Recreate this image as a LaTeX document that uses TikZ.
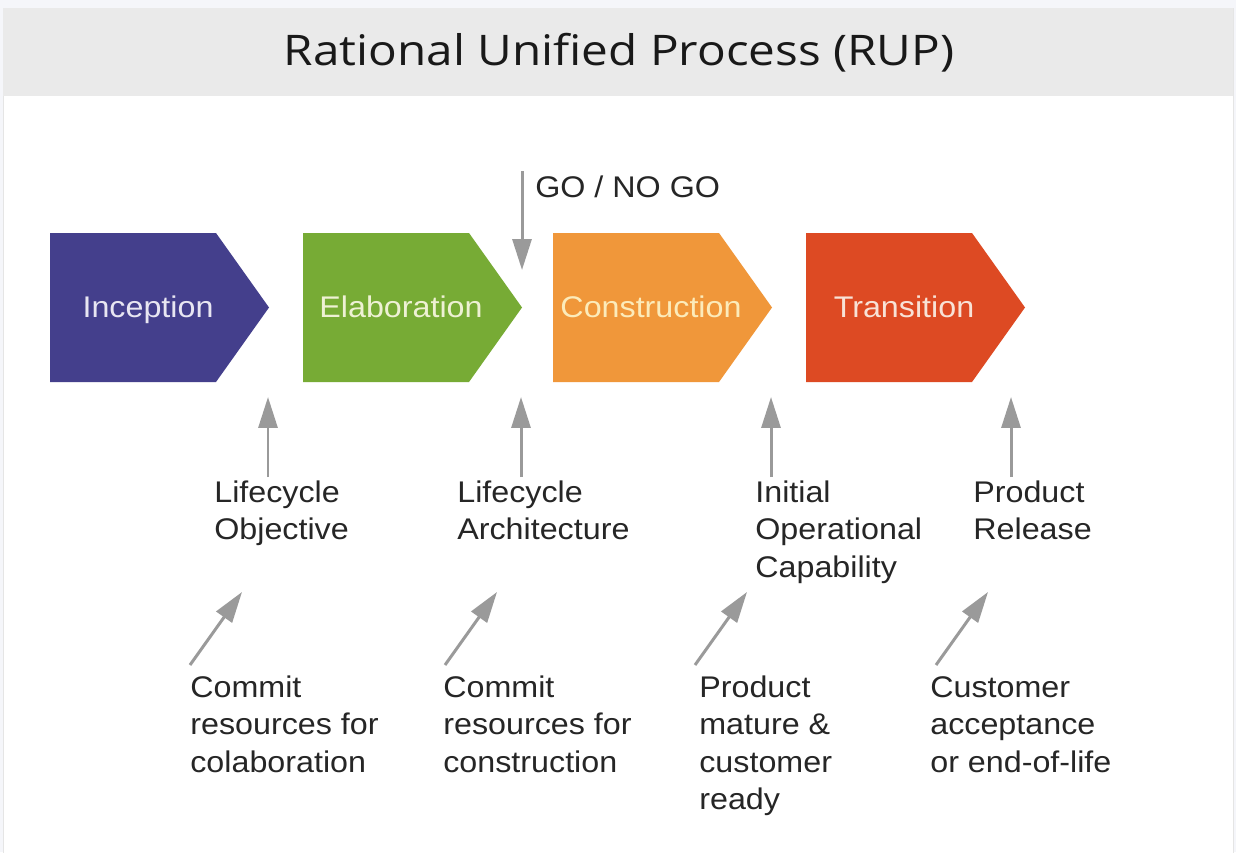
\documentclass[tikz,border=0pt]{standalone}
\usepackage{fontspec}
\setmainfont{Liberation Sans}[FakeStretch=1.08]
\newfontfamily\titlefont{Open Sans}[FakeStretch=1.13]
\usetikzlibrary{arrows.meta}
\definecolor{rupInc}{HTML}{443F8C}
\definecolor{rupEla}{HTML}{77AB35}
\definecolor{rupCon}{HTML}{F0973A}
\definecolor{rupTra}{HTML}{DD4A23}
\definecolor{txtInc}{HTML}{E8E6F2}
\definecolor{txtEla}{HTML}{EEF1D4}
\definecolor{txtCon}{HTML}{FCEBBA}
\definecolor{txtTra}{HTML}{F8E2D6}
\definecolor{pagebg}{HTML}{F5F6FA}
\definecolor{headbg}{HTML}{EAEAEA}
\definecolor{arrowgrey}{HTML}{9A9A9A}

\begin{document}
\begin{tikzpicture}[x=0.02cm,y=-0.02cm,
    milestone/.style={anchor=base west,align=left,inner sep=0pt,
      font=\fontsize{17}{21.3}\selectfont,text=black!85},
    phasetext/.style={anchor=base,inner sep=0pt,font=\fontsize{17}{20}\selectfont},
    gate/.style={draw=arrowgrey,line width=1.7pt,
      -{Triangle[length=17.6pt,width=10.8pt]}}]
        \useasboundingbox (0,0) rectangle (1236,852);
        \fill[pagebg] (0,0) rectangle (1236,852);
        \filldraw[fill=white,draw=black!10] (3,8) rectangle (1233,853);
        \fill[headbg] (3,8) rectangle (1233,96);
        \node[anchor=base,inner sep=0pt,font=\titlefont\fontsize{24}{28}\selectfont,text=black!90]
            (title) at (619,65) {Rational Unified Process (RUP)};

        % phases
        \foreach \x/\col/\tcol/\txt in {50/rupInc/txtInc/Inception,
                303/rupEla/txtEla/Elaboration,
                553/rupCon/txtCon/Construction,
                806/rupTra/txtTra/Transition}{
            \fill[\col] (\x,233) -- ++(166,0) -- ++(53,74.5) -- ++(-53,74.5) -- ++(-166,0) -- cycle;
            \node[phasetext,text=\tcol] (\txt) at (\x+98,317) {\txt};
        }

        % go / no go
        \node[milestone] (go) at (535,197) {GO / NO GO};
        \coordinate (go-start) at (522,171);
        \coordinate (go-end) at (522,270);
        \draw[gate] (go-start) -- (go-end);

        % milestones (base = last line)
        \node[milestone] (lco) at (214,539.5) {Lifecycle\\Objective};
        \node[milestone] (lca) at (457,539.5) {Lifecycle\\Architecture};
        \node[milestone] (ioc) at (755,577) {Initial\\Operational\\Capability};
        \node[milestone] (pr) at (973,539.5) {Product\\Release};

        \foreach \x/\n in {268/1, 521/2, 771/3, 1011/4}{
            \coordinate (up-s\n) at (\x,477);
            \coordinate (up-e\n) at (\x,397);
            \draw[gate] (up-s\n) -- (up-e\n);
        }

        % reasons
        \node[milestone] (r1) at (190,772) {Commit\\resources for\\colaboration};
        \node[milestone] (r2) at (443,772) {Commit\\resources for\\construction};
        \node[milestone] (r3) at (699,809.5) {Product\\mature \&\\customer\\ready};
        \node[milestone] (r4) at (930,772) {Customer\\acceptance\\or end-of-life};

        \foreach \x/\n in {190/1, 445/2, 695/3, 936/4}{
            \coordinate (dg-s\n) at (\x,665);
            \coordinate (dg-e\n) at (\x+52,592);
            \draw[gate] (dg-s\n) -- (dg-e\n);
        }
\end{tikzpicture}
\end{document}
